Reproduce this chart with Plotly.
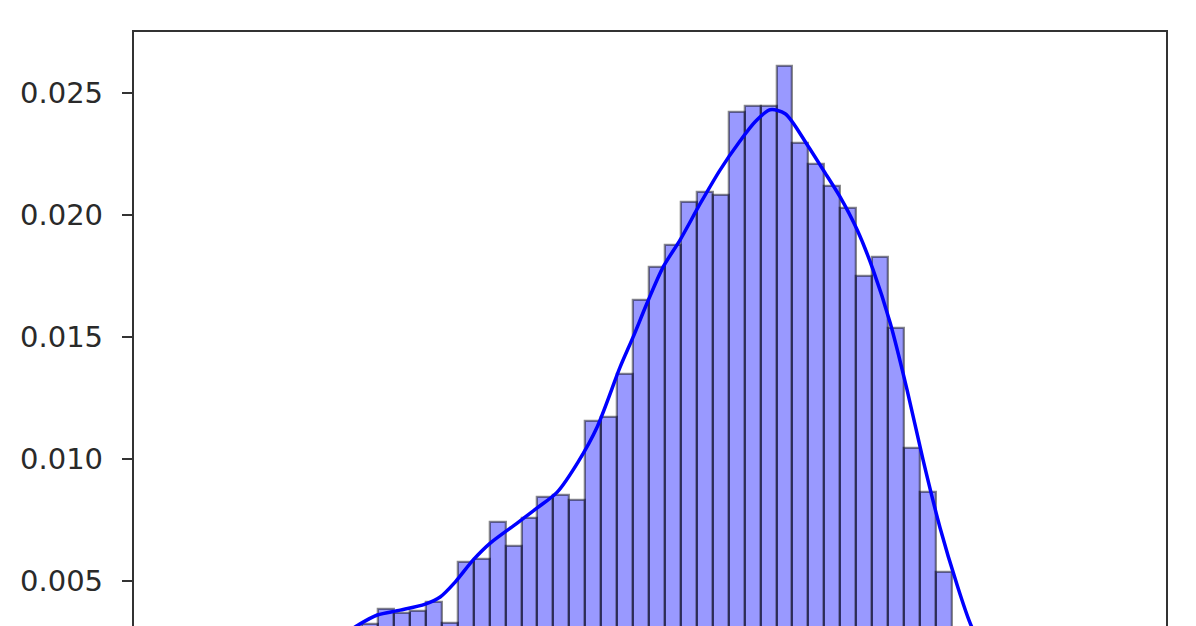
import numpy as np
import plotly.graph_objects as go

# histogram (density); bins are equal width
bin_start = 12.85
bin_width = 1.544
density = [0.0004, 0.0007, 0.0011, 0.0015, 0.0021, 0.0026,
           0.00324, 0.00386, 0.00369, 0.00377, 0.00414, 0.00328,
           0.00578, 0.00591, 0.00742, 0.00644, 0.00759, 0.00845,
           0.00853, 0.00833, 0.01157, 0.01173, 0.01349, 0.01653,
           0.01788, 0.01879, 0.02055, 0.02096, 0.02084, 0.02424,
           0.02449, 0.02449, 0.02613, 0.02297, 0.02211, 0.02121,
           0.02030, 0.01751, 0.01829, 0.01538, 0.01046, 0.00865,
           0.00537, 0.0024, 0.0011, 0.0004]

# kde curve points
kde_x = [6.42, 10.30, 14.17, 18.05, 21.73, 23.57, 25.80, 28.22, 29.67, 31.12,
         32.87, 34.52, 37.13, 39.07, 41.01, 43.04, 44.88, 47.11, 48.37, 49.73,
         51.28, 52.92, 54.86, 56.80, 58.74, 60.19, 61.64, 63.10, 65.23, 66.78,
         68.42, 70.07, 71.62, 73.27, 74.91, 76.46, 78.11, 79.76, 81.02, 82.96,
         84.89, 87.80]
kde_y = [0.00012, 0.00045, 0.00115, 0.00217, 0.00320, 0.00361, 0.00381, 0.00406,
         0.00435, 0.00496, 0.00587, 0.00656, 0.00738, 0.00800, 0.00865, 0.00989,
         0.01132, 0.01378, 0.01501, 0.01641, 0.01788, 0.01899, 0.02047, 0.02186,
         0.02305, 0.02383, 0.02432, 0.02416, 0.02289, 0.02186, 0.02075, 0.01940,
         0.01776, 0.01559, 0.01284, 0.00997, 0.00718, 0.00484, 0.00328, 0.00156,
         0.00053, 0.00012]

y_ticks = [0.005, 0.010, 0.015, 0.020, 0.025]

centers = bin_start + bin_width * (np.arange(len(density)) + 0.5)

fig = go.Figure()
fig.add_trace(go.Bar(
    x=centers, y=density, width=bin_width,
    marker=dict(color='rgba(0,0,255,0.4)',
                line=dict(color='rgba(0,0,0,0.45)', width=2.3)),
    showlegend=False,
))
fig.add_trace(go.Scatter(
    x=kde_x, y=kde_y, mode='lines',
    line=dict(color='blue', width=3.5, shape='spline', smoothing=0.8),
    showlegend=False,
))

# page body adds an 8px offset, so margins are shifted to compensate
fig.update_layout(
    width=1196, height=626,
    margin=dict(l=126, r=38, t=24, b=8),
    plot_bgcolor='white', paper_bgcolor='white',
    bargap=0,
    font=dict(family='DejaVu Sans', size=29, color='#2a2a2a'),
)
fig.update_xaxes(range=[0, 100], side='top', showline=True, linecolor='#333',
                 linewidth=2.3, showticklabels=False, ticks='', showgrid=False,
                 zeroline=False, automargin=False)
fig.update_yaxes(range=[0.00316, 0.02751], tickvals=y_ticks, tickformat='.3f',
                 ticks='outside', ticklen=10, tickwidth=2.3, tickcolor='#333',
                 ticklabelstandoff=13,
                 showline=True, linecolor='#333', linewidth=2.3, mirror=True,
                 showgrid=False, zeroline=False, automargin=False)

fig.write_html("out.html")
